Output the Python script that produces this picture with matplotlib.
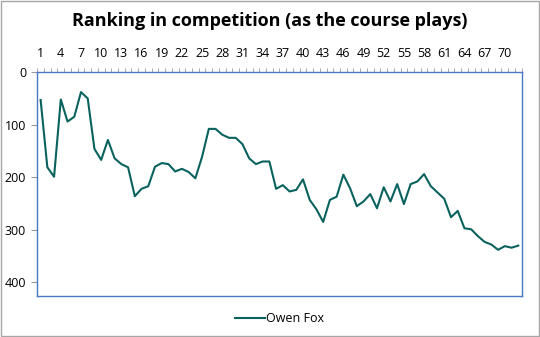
import matplotlib
matplotlib.use("Agg")
import matplotlib.pyplot as plt
from matplotlib.patches import Rectangle
from matplotlib.ticker import MultipleLocator

plt.rcParams['font.family'] = ['Open Sans', 'DejaVu Sans']

# Ranking per round (1 = best), one value per hole/round played
rounds = list(range(1, 73))
ranking = [
    53, 181, 199, 52, 94, 85, 38, 50, 146, 167,
    129, 164, 175, 181, 236, 222, 217, 180, 173, 175,
    189, 184, 190, 202, 161, 108, 108, 119, 125, 125,
    137, 164, 175, 170, 170, 222, 215, 227, 224, 204,
    243, 261, 285, 243, 237, 195, 221, 255, 246, 232,
    259, 219, 246, 213, 251, 213, 208, 194, 217, 229,
    241, 276, 264, 297, 299, 312, 323, 328, 338, 331,
    334, 330,
]
player = "Owen Fox"
title = "Ranking in competition (as the course plays)"

line_color = "#0A625E"
frame_color = "#4A76C6"
tick_color = "#9A9A9A"

fig = plt.figure(figsize=(5.4, 3.37), dpi=100)
ax = fig.add_axes([0.069, 0.123, 0.897, 0.663])

ax.plot(rounds, ranking, color=line_color, linewidth=1.5, label=player)

ax.set_xlim(0.5, 72.5)
ax.set_ylim(425, 0)

# category labels along the top, every third round
ax.xaxis.tick_top()
ax.set_xticks(list(range(1, 73, 3)))
ax.set_xticks([i + 0.5 for i in range(0, 73)], minor=True)
ax.tick_params(axis='x', which='major', length=0, labelsize=9, pad=9)
ax.tick_params(axis='x', which='minor', direction='out', length=3, color=tick_color)

ax.yaxis.set_major_locator(MultipleLocator(100))
ax.tick_params(axis='y', direction='out', length=4, color=tick_color,
               labelsize=9, pad=4)

for side in ax.spines.values():
    side.set_color(frame_color)
    side.set_linewidth(1.0)

fig.suptitle(title, fontsize=13, fontweight='bold', y=0.965)

ax.legend(loc='upper center', bbox_to_anchor=(0.5, -0.025), frameon=False,
          fontsize=9, handlelength=2.4, handletextpad=0.1)

# thin grey outline round the whole chart
fig.patches.append(Rectangle((0.001, 0.002), 0.997, 0.996, transform=fig.transFigure,
                             fill=False, edgecolor="#A6A6A6", linewidth=1.0))

fig.savefig("out.png", dpi=100)
